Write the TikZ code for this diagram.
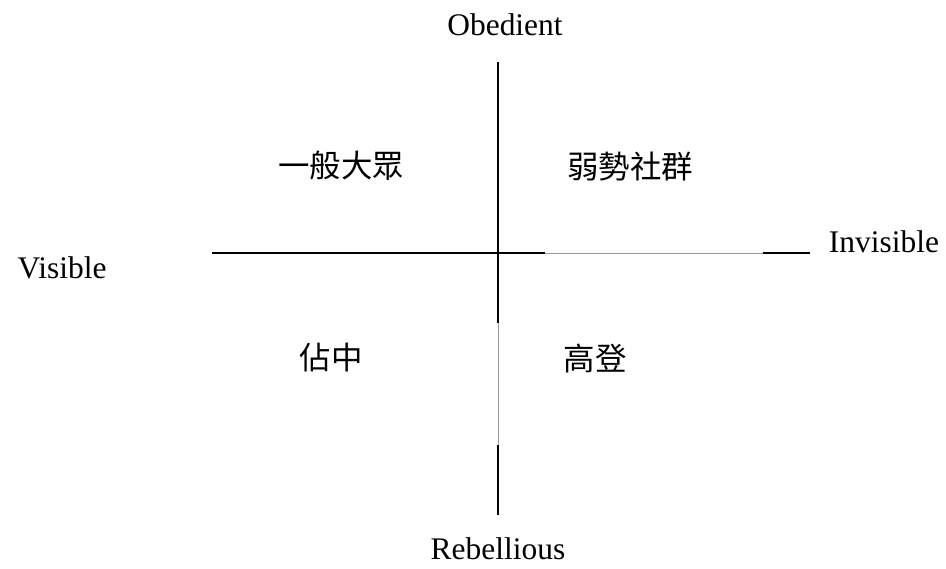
\documentclass[tikz,border=0pt]{standalone}
\usepackage{fontspec}
\setmainfont{Liberation Serif}
\newfontfamily\cjk{Noto Sans CJK TC}
\usetikzlibrary{positioning}

\begin{document}
\begin{tikzpicture}[
  x=0.02cm, y=-0.02cm,
  axis/.style={line width=1.1pt, black},
  gap/.style={line width=0.5pt, black!40},
  lbl/.style={font=\fontsize{17.9}{21}\selectfont, inner sep=0pt},
  grp/.style={font=\cjk\fontsize{17.9}{21}\selectfont, inner sep=0pt}
]
  \useasboundingbox (0,0) rectangle (946,568);

  % axis ends and breaks
  \coordinate (top) at (498,62);
  \coordinate (vbrkA) at (498,323);
  \coordinate (vbrkB) at (498,445);
  \coordinate (bot) at (498,515);
  \coordinate (left) at (212,253);
  \coordinate (hbrkA) at (545,253);
  \coordinate (hbrkB) at (763,253);
  \coordinate (right) at (810,253);

  \draw[axis] (top) -- (vbrkA);
  \draw[gap] (vbrkA) -- (vbrkB);
  \draw[axis] (vbrkB) -- (bot);
  \draw[axis] (left) -- (hbrkA);
  \draw[gap] (hbrkA) -- (hbrkB);
  \draw[axis] (hbrkB) -- (right);

  % axis labels
  \node[lbl] (obed) at (505,25) {Obedient};
  \node[lbl] (rebel) at (498,549) {Rebellious};
  \node[lbl] (vis) at (62,268) {Visible};
  \node[lbl] (invis) at (884,242) {Invisible};

  % quadrants
  \node[grp] (public) at (341,166) {一般大眾};
  \node[grp] (weak) at (630,167) {弱勢社群};
  \node[grp] (occupy) at (331,358) {佔中};
  \node[grp] (golden) at (595,358) {高登};
\end{tikzpicture}
\end{document}
